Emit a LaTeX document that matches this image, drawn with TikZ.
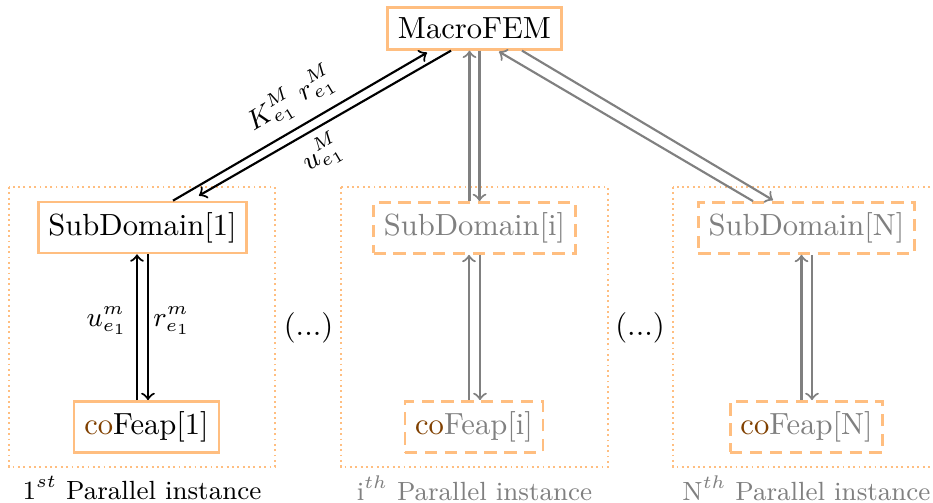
\documentclass[tikz,border=0pt]{standalone}
\usepackage{amsmath}
\usetikzlibrary{calc}
\definecolor{boxor}{RGB}{255,190,128}
\definecolor{cobrown}{RGB}{128,64,0}
\begin{document}
\begin{tikzpicture}[x=0.327pt,y=-0.327pt,
  box/.style={draw=boxor,line width=0.9pt,inner sep=3.33pt,font=\fontsize{10}{12}\selectfont},
  dbox/.style={box,dash pattern=on 4pt off 2.5pt,text=gray},
  framebox/.style={draw=boxor,line width=0.7pt,dash pattern=on 0.6pt off 1.15pt},
  lab/.style={font=\fontsize{8.6}{10}\selectfont},
  mlab/.style={font=\fontsize{8.8}{10}\selectfont},
  arr/.style={->,line width=0.7pt},
  garr/.style={arr,draw=gray}]
\useasboundingbox (0,0) rectangle (933,503);
% frames
\draw[framebox] (9,187) rectangle (275,467);
\draw[framebox] (341,187) rectangle (608,467);
\draw[framebox] (673,187) rectangle (939,467);
% nodes
\node[box] (mf) at (474.5,28.5) {MacroFEM};
\node[box] (sd1) at (142.5,227.5) {SubDomain[1]};
\node[box] (cf1) at (146.5,427) {\textcolor{cobrown}{co}Feap[1]};
\node[dbox] (sdi) at (474.5,228) {SubDomain[i]};
\node[dbox] (cfi) at (474,427) {\textcolor{cobrown}{co}Feap[i]};
\node[dbox] (sdN) at (806.5,228) {SubDomain[N]};
\node[dbox] (cfN) at (806.5,427) {\textcolor{cobrown}{co}Feap[N]};
% instance labels
\node[lab] (l1) at (142,488) {1$^{st}$ Parallel instance};
\node[lab,text=gray] (li) at (474.5,488) {i$^{th}$ Parallel instance};
\node[lab,text=gray] (lN) at (806.5,488) {N$^{th}$ Parallel instance};
% ellipses
\node[box,draw=none] (d1) at (308.5,328) {(...)};
\node[box,draw=none] (d2) at (640,328) {(...)};
% vertical arrows instance 1
\coordinate (a1) at ($(sd1.south)+(-5.5,0)$);
\coordinate (b1) at ($(sd1.south)+(5.5,0)$);
\draw[arr] (a1 |- cf1.north) -- (a1);
\draw[arr] (b1) -- (b1 |- cf1.north);
\node[mlab] (um) at (107,321) {$u^m_{e_1}$};
\node[mlab] (rm) at (172,321) {$r^m_{e_1}$};
% vertical arrows instance i
\coordinate (ai) at ($(sdi.south)+(-5.5,0)$);
\coordinate (bi) at ($(sdi.south)+(5.5,0)$);
\draw[garr] (ai |- cfi.north) -- (ai);
\draw[garr] (bi) -- (bi |- cfi.north);
% vertical arrows instance N
\coordinate (aN) at ($(sdN.south)+(-5,0)$);
\coordinate (bN) at ($(sdN.south)+(5.5,0)$);
\draw[garr] (aN |- cfN.north) -- (aN);
\draw[garr] (bN) -- (bN |- cfN.north);
% macro to subdomain i
\coordinate (ti) at ($(sdi.north)+(-5,0)$);
\coordinate (ui) at ($(sdi.north)+(5,0)$);
\draw[garr] (ti) -- (ti |- mf.south);
\draw[garr] (ui |- mf.south) -- (ui);
% macro to subdomain 1
\draw[arr] ($(sd1.north)+(30.5,0)$) -- ($(mf.south)+(-47.5,2)$);
\draw[arr] ($(mf.south)+(-23.5,0)$) -- ($(sd1.north)+(56.5,-5)$);
\node[mlab,rotate=30.9] (kr) at (291,100) {$K^M_{e_1}\;r^M_{e_1}$};
\node[mlab,rotate=30.9] (uM) at (322,154) {$u^M_{e_1}$};
% macro to subdomain N
\draw[garr] ($(sdN.north)+(-53.5,0)$) -- ($(mf.south)+(24.5,1)$);
\draw[garr] ($(mf.south)+(47.5,0)$) -- ($(sdN.north)+(-33.5,-1)$);
\end{tikzpicture}
\end{document}
